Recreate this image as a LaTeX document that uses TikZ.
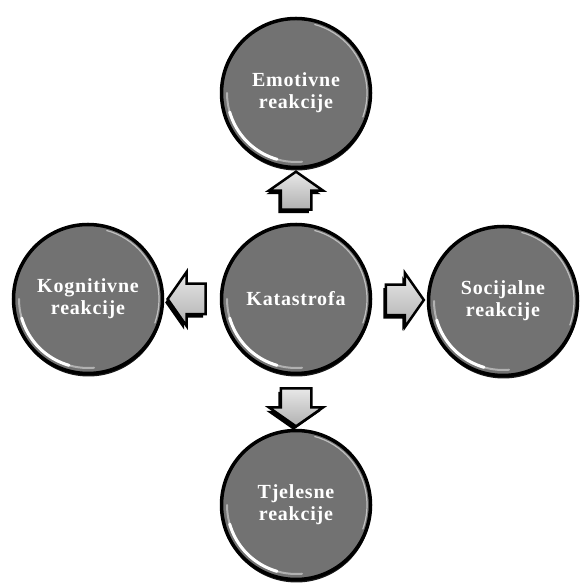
\documentclass[tikz,border=0pt]{standalone}
\usepackage{fontspec}
\setmainfont[LetterSpace=4]{Liberation Serif}
\usetikzlibrary{shapes.arrows,shadows,calc}

\definecolor{ballgray}{RGB}{114,114,114}

\tikzset{
  reakcija/.style={circle, minimum size=149pt, inner sep=0pt, fill=ballgray,
    draw=black, line width=3.5pt, text=white, align=center,
    font=\fontsize{20}{22}\selectfont\bfseries,
    drop shadow={shadow xshift=0.5pt, shadow yshift=-3pt, fill=black, opacity=0.9}},
  strelica/.style={single arrow, minimum height=38pt, inner sep=0pt,
    single arrow head extend=12pt, single arrow tip angle=110,
    top color=gray!18, bottom color=gray!62, draw=black, line width=2.5pt,
    drop shadow={shadow xshift=-2.5pt, shadow yshift=-3.5pt, fill=black, opacity=1}},
  hstrelica/.style={strelica, inner ysep=14pt},
  vstrelica/.style={strelica, inner xsep=14pt},
  sjaj/.style={white, line width=3pt, line cap=round},
}

\begin{document}
\begin{tikzpicture}[x=1pt,y=1pt]
  \useasboundingbox (0,0) rectangle (579,583);

  %circles
  \node[reakcija] (kat) at (296,284) {Katastrofa};
  \node[reakcija] (emo) at (296,490) {Emotivne\\reakcije};
  \node[reakcija] (kog) at (88,284)  {Kognitivne\\reakcije};
  \node[reakcija] (soc) at (503,282) {Socijalne\\reakcije};
  \node[reakcija] (tje) at (296,78)  {Tjelesne\\reakcije};

  %gloss
  \foreach \n in {kat,emo,kog,soc,tje}{
    \draw[sjaj, opacity=0.45, line width=2pt] ([shift={(180:69pt)}]\n.center) arc[start angle=180, end angle=275, radius=69pt];
    \draw[sjaj] ([shift={(196:69pt)}]\n.center) arc[start angle=196, end angle=254, radius=69pt];
    \draw[white, opacity=0.55, line width=1.2pt] ([shift={(-20:71pt)}]\n.center) arc[start angle=-20, end angle=75, radius=71pt];
  }

  %arrows
  \node[vstrelica, shape border rotate=90]  (gore)   at ($(kat.north)!0.5!(emo.south)$) {};
  \node[hstrelica, shape border rotate=180] (lijevo) at ($(kat.west)!0.5!(kog.east)$) {};
  \node[hstrelica, shape border rotate=0]   (desno)  at ($(kat.east)!0.5!(soc.west)$) {};
  \node[vstrelica, shape border rotate=270] (dolje)  at ($(kat.south)!0.5!(tje.north)$) {};
\end{tikzpicture}
\end{document}
